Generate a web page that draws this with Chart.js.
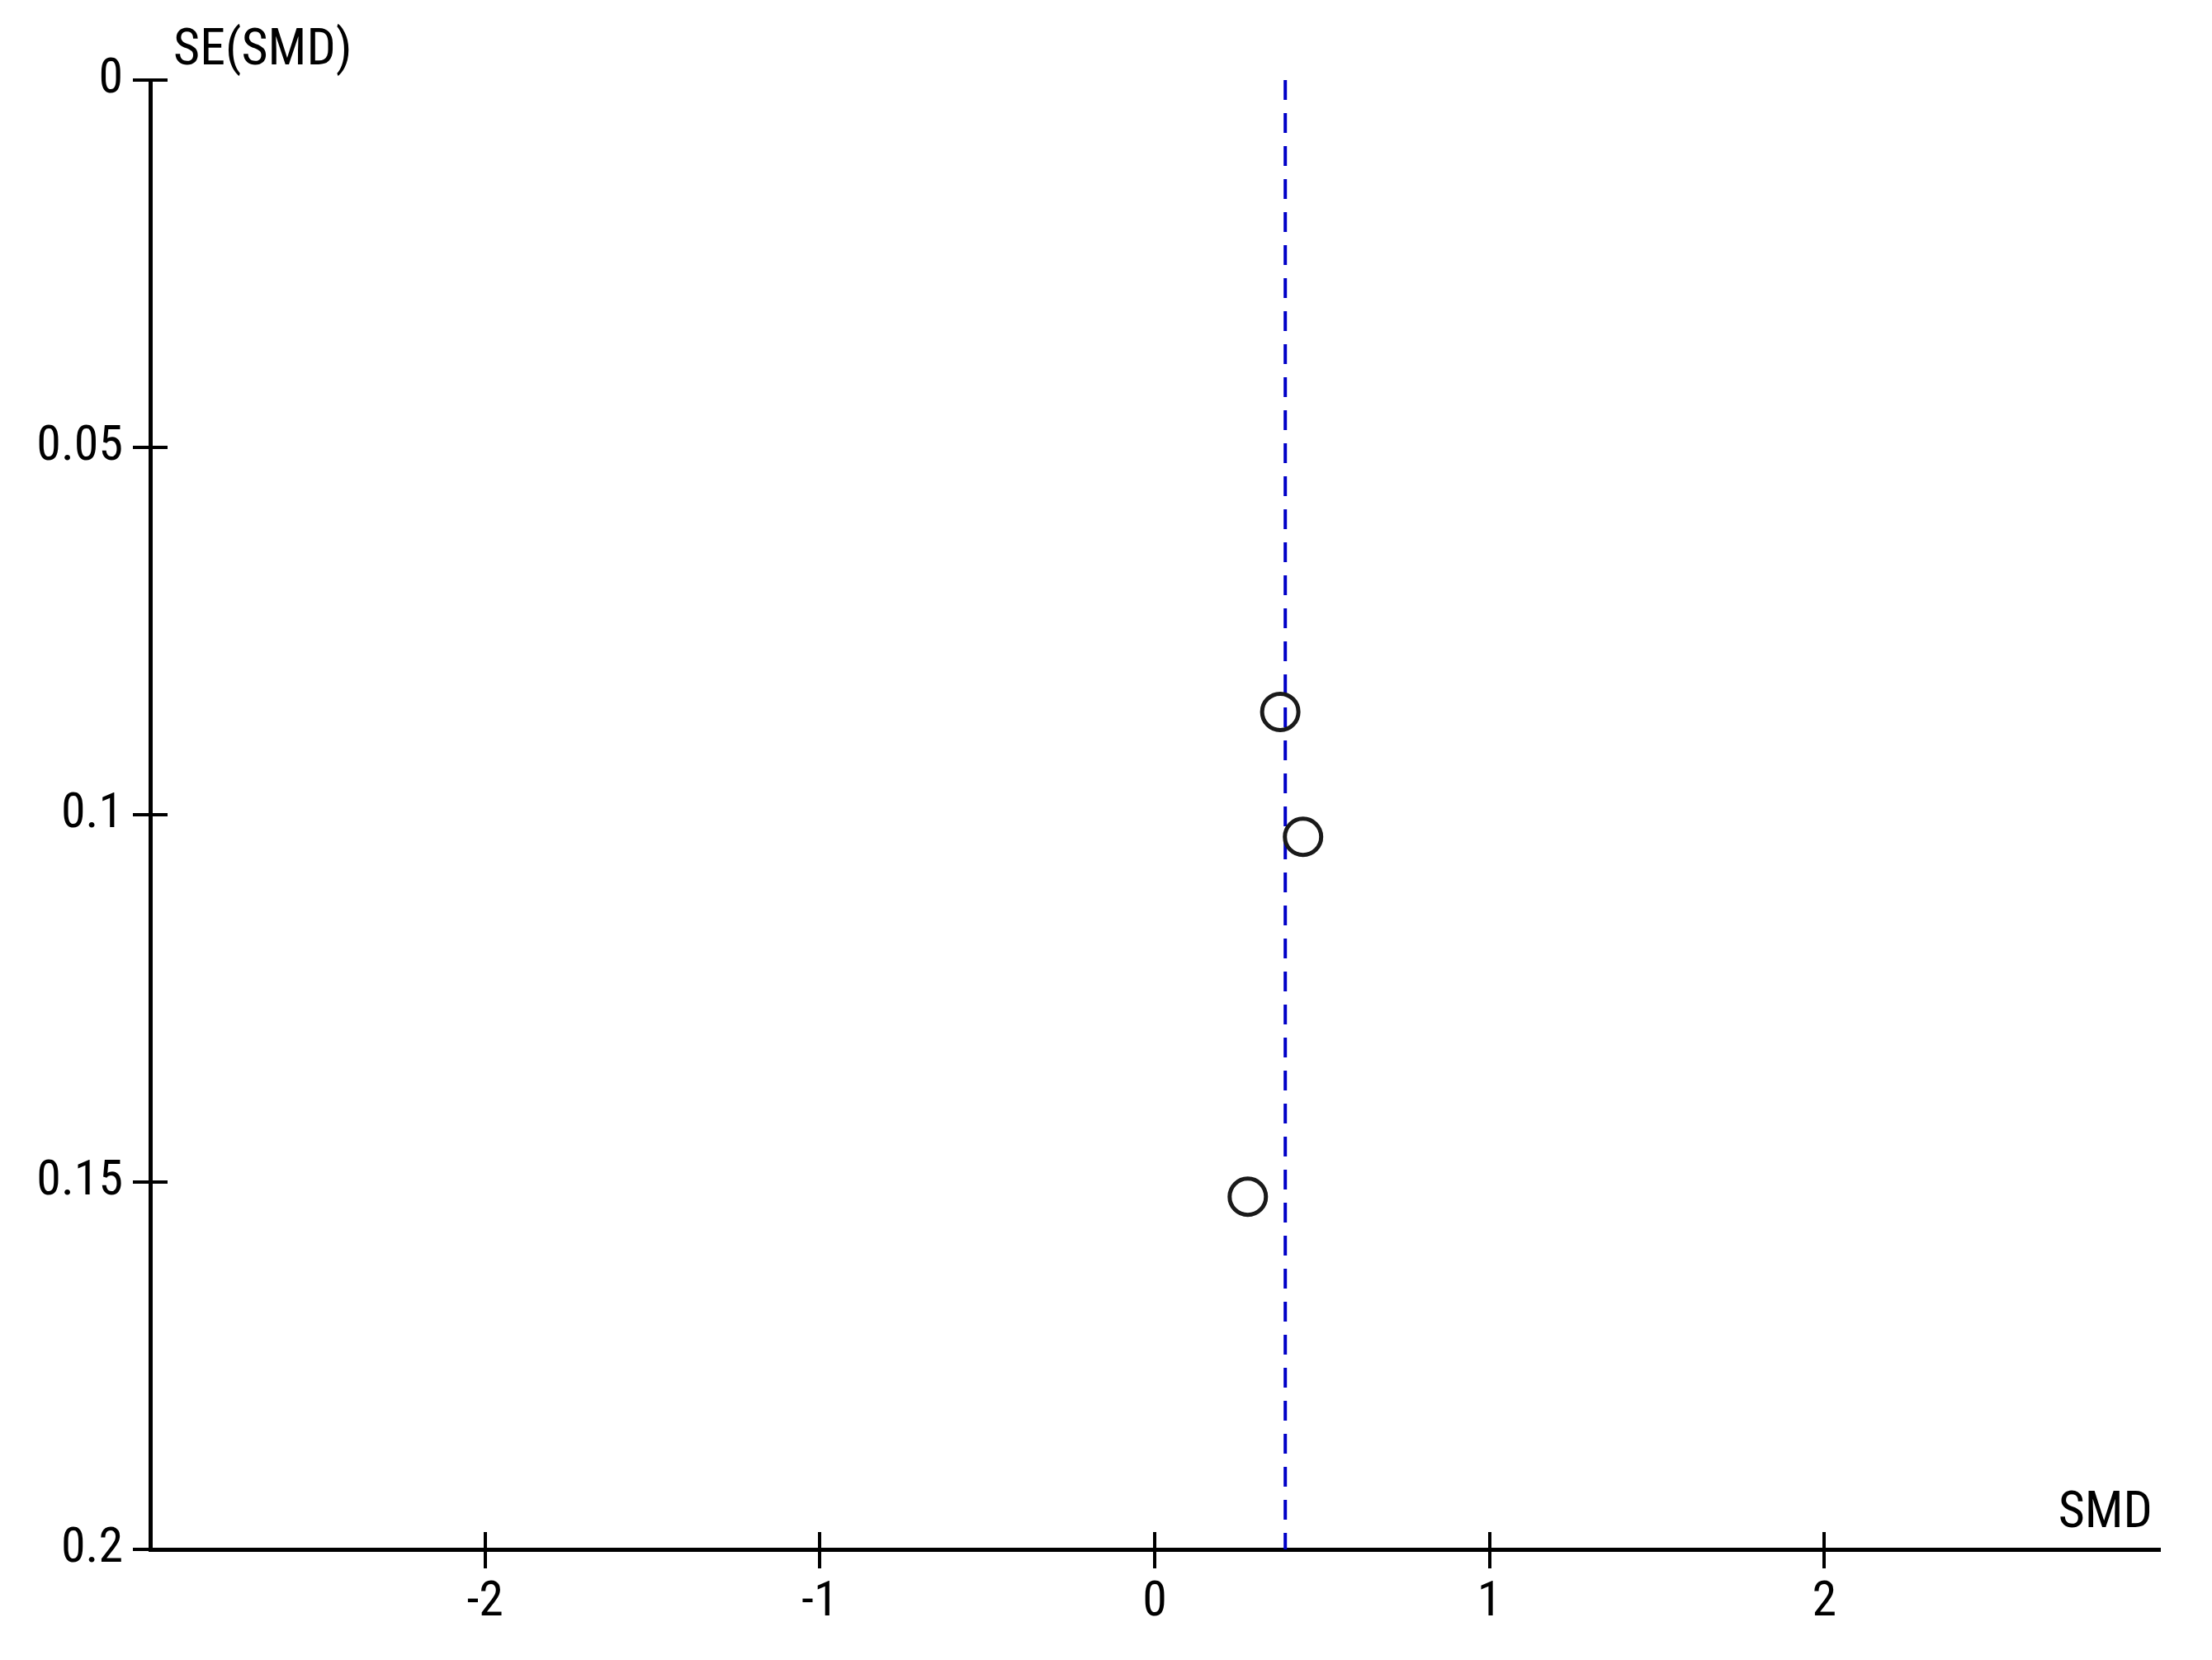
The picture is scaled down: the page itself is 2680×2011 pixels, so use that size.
<!DOCTYPE html>
<html>
<head>
<meta charset="utf-8">
<title>Funnel plot SE(SMD) vs SMD</title>
<script src="https://cdn.jsdelivr.net/npm/chart.js@4.4.1/dist/chart.umd.min.js"></script>
<style>
  html, body { margin: 0; padding: 0; background: #fff; }
  #wrap { width: 2680px; height: 2011px; }
</style>
</head>
<body>
<div id="wrap"><canvas id="funnel" width="2680" height="2011"></canvas></div>
<script>
// study estimates
const studySMD = [0.375, 0.443, 0.278];
const studySE = [0.086, 0.103, 0.152];

// pooled estimate (dashed line)
const pooledSMD = 0.39;
const pooledSERange = [0, 0.2];

// axes
const xTickValues = [-2, -1, 0, 1, 2];
const xTickLabels = ["-2", "-1", "0", "1", "2"];
const yTickValues = [0, 0.05, 0.1, 0.15, 0.2];
const yTickLabels = ["0", "0.05", "0.1", "0.15", "0.2"];
const xAxisTitle = "SMD";
const yAxisTitle = "SE(SMD)";

const FONT = "'Roboto Condensed', 'DejaVu Sans Condensed', sans-serif";
const FONT_SIZE = 60;
const TITLE_SIZE = 62;
const TICK_LEN = 21;

// ticks cross the axis: chart.js draws the outer half, this draws the inner half + titles
const crossTicks = {
  id: "crossTicks",
  afterDraw(chart) {
    const { ctx, chartArea, scales } = chart;
    ctx.save();
    ctx.strokeStyle = "#000";
    ctx.lineWidth = 4;
    scales.y.ticks.forEach(t => {
      const py = Math.round(scales.y.getPixelForValue(t.value));
      ctx.beginPath();
      ctx.moveTo(chartArea.left, py);
      ctx.lineTo(chartArea.left + TICK_LEN, py);
      ctx.stroke();
    });
    scales.x.ticks.forEach(t => {
      const px = Math.round(scales.x.getPixelForValue(t.value));
      ctx.beginPath();
      ctx.moveTo(px, chartArea.bottom);
      ctx.lineTo(px, chartArea.bottom - TICK_LEN);
      ctx.stroke();
    });

    ctx.fillStyle = "#000";
    ctx.font = TITLE_SIZE + "px " + FONT;
    ctx.textBaseline = "alphabetic";
    ctx.textAlign = "left";
    ctx.fillText(yAxisTitle, chartArea.left + 28, chartArea.top - 19);
    ctx.textAlign = "right";
    ctx.fillText(xAxisTitle, chartArea.right - 8, chartArea.bottom - 27);
    ctx.restore();
  }
};

const tickFont = { family: FONT, size: FONT_SIZE };

new Chart(document.getElementById("funnel"), {
  type: "scatter",
  data: {
    datasets: [
      {
        label: "Studies",
        data: studySMD.map((x, i) => ({ x, y: studySE[i] })),
        pointStyle: "circle",
        pointRadius: 22,
        pointBorderWidth: 5,
        pointBorderColor: "#1a1a1a",
        pointBackgroundColor: "rgba(0,0,0,0)",
        showLine: false,
      },
      {
        label: "Pooled",
        type: "line",
        data: pooledSERange.map(y => ({ x: pooledSMD, y })),
        borderColor: "#0000c8",
        borderWidth: 4,
        borderDash: [24, 16],
        pointRadius: 0,
        fill: false,
      },
    ],
  },
  options: {
    responsive: false,
    animation: false,
    clip: false,
    events: [],
    layout: { padding: { top: 97, right: 64, left: 0, bottom: 0 } },
    plugins: {
      legend: { display: false },
      tooltip: { enabled: false },
    },
    scales: {
      x: {
        type: "linear",
        min: -3,
        max: 3,
        afterBuildTicks: (scale) => {
          scale.ticks = xTickValues.map(v => ({ value: v }));
        },
        afterFit: (scale) => { scale.height = 134; },
        border: { display: true, color: "#000", width: 5 },
        grid: { drawOnChartArea: false, drawTicks: true, tickLength: TICK_LEN + 2, color: "#000", lineWidth: 4 },
        ticks: {
          color: "#000",
          padding: 6,
          maxRotation: 0,
          font: tickFont,
          callback: (v) => xTickLabels[xTickValues.indexOf(v)] ?? "",
        },
      },
      y: {
        type: "linear",
        reverse: true,
        min: 0,
        max: 0.2,
        afterBuildTicks: (scale) => {
          scale.ticks = yTickValues.map(v => ({ value: v }));
        },
        afterFit: (scale) => { scale.width = 182; },
        border: { display: true, color: "#000", width: 5 },
        grid: { drawOnChartArea: false, drawTicks: true, tickLength: TICK_LEN, color: "#000", lineWidth: 4 },
        ticks: {
          color: "#000",
          padding: 12,
          font: tickFont,
          callback: (v) => {
            const i = yTickValues.findIndex(t => Math.abs(t - v) < 1e-9);
            return i >= 0 ? yTickLabels[i] : "";
          },
        },
      },
    },
  },
  plugins: [crossTicks],
});
</script>
</body>
</html>
